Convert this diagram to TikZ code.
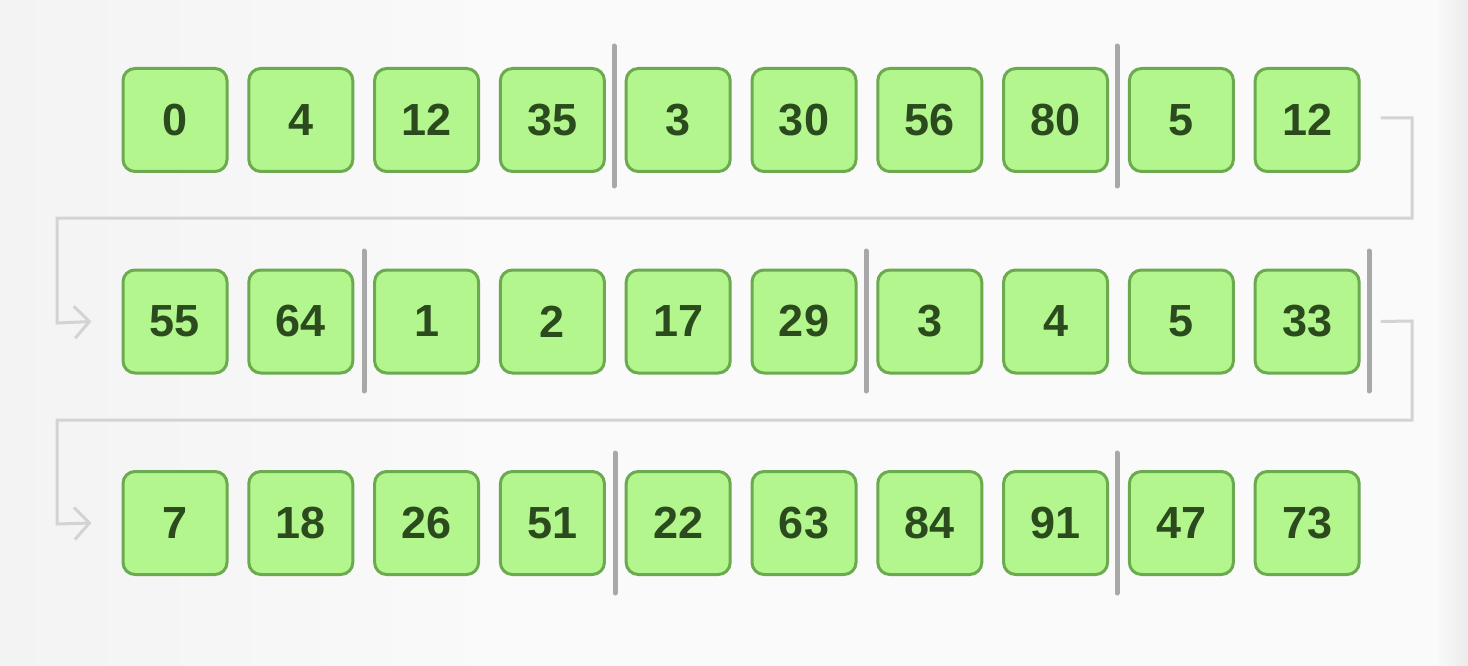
\documentclass[tikz,border=0pt]{standalone}
\usepackage{fontspec}
\setmainfont{Liberation Sans}
\usetikzlibrary{arrows.meta}
\definecolor{cellfill}{HTML}{B4F68E}
\definecolor{celldraw}{HTML}{6BAA4E}
\definecolor{celltext}{HTML}{2B4A1E}
\definecolor{sepgray}{HTML}{A8A8A8}
\definecolor{linkgray}{HTML}{D3D3D3}
\definecolor{bgleft}{HTML}{F3F3F3}
\definecolor{bgmid}{HTML}{FAFAFA}
\definecolor{bgright}{HTML}{EBEBEB}
\tikzset{
  cell/.style={draw=celldraw, fill=cellfill, line width=3pt, rounded corners=12pt,
    minimum width=104pt, minimum height=103pt, inner sep=0pt,
    text=celltext, font=\fontsize{45}{50}\selectfont\bfseries},
  sepline/.style={draw=sepgray, line width=5pt, line cap=round},
  link/.style={draw=linkgray, line width=3pt},
  linkarrow/.style={link, -{Straight Barb[length=15pt,width=32pt,line width=3pt]}},
}
\begin{document}
\begin{tikzpicture}[x=1pt,y=-1pt]
\shade[left color=bgleft, right color=bgmid] (0,0) rectangle (500,666);
\fill[bgmid] (499,0) rectangle (1436,666);
\shade[left color=bgmid, right color=bgright] (1435,0) rectangle (1468,666);
\useasboundingbox (0,0) rectangle (1468,666);
% rows of cells
\foreach \v [count=\i] in {0,4,12,35,3,30,56,80,5,12}{
  \node[cell] (a\i) at ({175+125.8*(\i-1)},120) {\v};
}
\foreach \v [count=\i] in {55,64,1,2,17,29,3,4,5,33}{
  \node[cell] (b\i) at ({175+125.8*(\i-1)},321.5) {\v};
}
\foreach \v [count=\i] in {7,18,26,51,22,63,84,91,47,73}{
  \node[cell] (c\i) at ({175+125.8*(\i-1)},523) {\v};
}
% separators
\draw[sepline] (614,46) -- (614,186);
\draw[sepline] (1117,46) -- (1117,186);
\draw[sepline] (364,251) -- (364,391);
\draw[sepline] (866,251) -- (866,391);
\draw[sepline] (1369,251) -- (1369,391);
\draw[sepline] (615,453) -- (615,593);
\draw[sepline] (1117,453) -- (1117,593);
% connectors
\coordinate (s1) at ([xshift=20pt,yshift=2pt]a10.east);
\coordinate (e1) at ([xshift=-30pt]b1.west);
\coordinate (s2) at ([xshift=20pt]b10.east);
\coordinate (e2) at ([xshift=-30pt]c1.west);
\draw[linkarrow] (s1) -- (1412,118) -- (1412,218) -- (57,218) -- (57,323) -- (e1);
\draw[linkarrow] (s2) -- (1412,321) -- (1412,420) -- (57,420) -- (57,524) -- (e2);
\end{tikzpicture}
\end{document}
